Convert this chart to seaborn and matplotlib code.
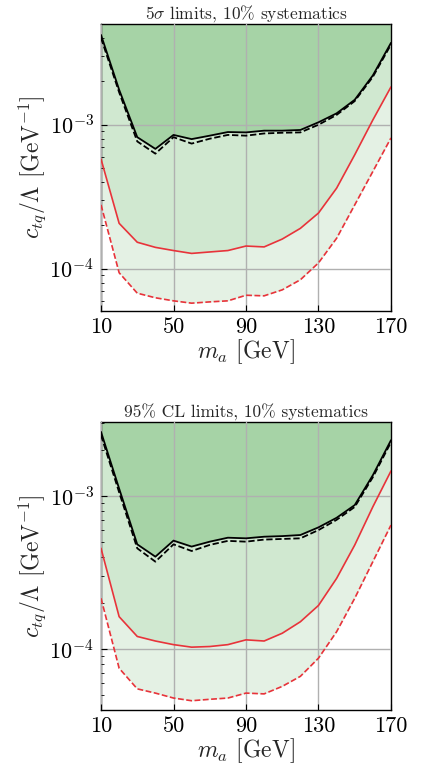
import numpy as np
import pandas as pd
import matplotlib
matplotlib.use("Agg")
import matplotlib.pyplot as plt
import seaborn as sns

mass = [10, 20, 30, 40, 50, 60, 70, 80, 90, 100, 110, 120, 130, 140, 150, 160, 170]

# Panel 1: 5 sigma limits
sig_black_solid = [4.2e-3, 1.75e-3, 8.2e-4, 6.8e-4, 8.5e-4, 7.95e-4, 8.4e-4, 8.9e-4, 8.85e-4, 9.1e-4, 9.1e-4, 9.2e-4, 1.04e-3, 1.2e-3, 1.49e-3, 2.2e-3, 3.7e-3]
sig_black_dashed = [4.0e-3, 1.68e-3, 7.66e-4, 6.3e-4, 8.2e-4, 7.4e-4, 8.0e-4, 8.5e-4, 8.4e-4, 8.7e-4, 8.8e-4, 8.85e-4, 1.0e-3, 1.17e-3, 1.46e-3, 2.15e-3, 3.6e-3]
sig_red_solid = [5.78e-4, 2.07e-4, 1.53e-4, 1.41e-4, 1.34e-4, 1.28e-4, 1.31e-4, 1.34e-4, 1.44e-4, 1.42e-4, 1.61e-4, 1.91e-4, 2.44e-4, 3.63e-4, 6.19e-4, 1.08e-3, 1.83e-3]
sig_red_dashed = [2.78e-4, 9.4e-5, 6.78e-5, 6.3e-5, 6.0e-5, 5.78e-5, 5.9e-5, 6.0e-5, 6.56e-5, 6.5e-5, 7.15e-5, 8.4e-5, 1.1e-4, 1.63e-4, 2.78e-4, 4.74e-4, 8.1e-4]

# Panel 2: 95% CL limits
cl_black_solid = [2.63e-3, 1.12e-3, 4.84e-4, 4.02e-4, 5.12e-4, 4.68e-4, 5.04e-4, 5.35e-4, 5.3e-4, 5.43e-4, 5.48e-4, 5.57e-4, 6.25e-4, 7.22e-4, 8.74e-4, 1.37e-3, 2.32e-3]
cl_black_dashed = [2.5e-3, 1.06e-3, 4.56e-4, 3.73e-4, 4.84e-4, 4.38e-4, 4.8e-4, 5.1e-4, 5.04e-4, 5.2e-4, 5.25e-4, 5.3e-4, 6.0e-4, 7.0e-4, 8.5e-4, 1.33e-3, 2.25e-3]
cl_red_solid = [4.56e-4, 1.63e-4, 1.21e-4, 1.13e-4, 1.07e-4, 1.03e-4, 1.04e-4, 1.07e-4, 1.15e-4, 1.13e-4, 1.27e-4, 1.51e-4, 1.93e-4, 2.9e-4, 4.79e-4, 8.52e-4, 1.46e-3]
cl_red_dashed = [2.15e-4, 7.5e-5, 5.5e-5, 5.16e-5, 4.79e-5, 4.6e-5, 4.7e-5, 4.79e-5, 5.16e-5, 5.1e-5, 5.71e-5, 6.64e-5, 8.73e-5, 1.3e-4, 2.15e-4, 3.73e-4, 6.47e-4]

titles = [r"$5\sigma$ limits, 10% systematics", r"95% CL limits, 10% systematics"]
x_ticks = [10, 50, 90, 130, 170]
ylims = [(5.1e-5, 5.0e-3), (4.0e-5, 3.05e-3)]

sns.set_style("ticks")
plt.rcParams["font.family"] = ["cmr10", "DejaVu Serif"]
plt.rcParams["mathtext.fontset"] = "cm"
plt.rcParams["axes.formatter.use_mathtext"] = True
plt.rcParams["axes.unicode_minus"] = False

fig = plt.figure(figsize=(4.23, 7.70), dpi=100)
axes = [fig.add_axes([0.2388, 0.5961, 0.6855, 0.3727]),
        fig.add_axes([0.2388, 0.0779, 0.6855, 0.3740])]

panels = [
    (sig_black_solid, sig_black_dashed, sig_red_solid, sig_red_dashed),
    (cl_black_solid, cl_black_dashed, cl_red_solid, cl_red_dashed),
]

dark = "#a6d3a6"
mid = "#d0e8d0"
light = "#e4f1e4"
red = "#e8333a"

for ax, (bs, bd, rs, rd), title, ylim in zip(axes, panels, titles, ylims):
    top = np.full(len(mass), ylim[1] * 2)
    ax.fill_between(mass, rd, rs, color=light, lw=0, zorder=0)
    ax.fill_between(mass, rs, bs, color=mid, lw=0, zorder=0)
    ax.fill_between(mass, bs, top, color=dark, lw=0, zorder=0)
    df = pd.DataFrame({"m": mass, "bs": bs, "bd": bd, "rs": rs, "rd": rd})
    sns.lineplot(data=df, x="m", y="bs", ax=ax, color="black", lw=1.3, zorder=3)
    sns.lineplot(data=df, x="m", y="bd", ax=ax, color="black", lw=1.3, ls=(0, (3.5, 1.5)), zorder=3)
    sns.lineplot(data=df, x="m", y="rs", ax=ax, color=red, lw=1.2, zorder=3)
    sns.lineplot(data=df, x="m", y="rd", ax=ax, color=red, lw=1.2, ls=(0, (3.5, 1.5)), zorder=3)
    ax.set_yscale("log")
    ax.set_xlim(10, 170)
    ax.set_ylim(*ylim)
    ax.set_xticks(x_ticks)
    ax.set_xticklabels([str(t) for t in x_ticks])
    ax.set_yticks([1e-4, 1e-3])
    ax.grid(True, which="major", color="#b0b0b0", lw=1.0, zorder=1)
    ax.set_axisbelow(False)
    for s in ax.spines.values():
        s.set_visible(True)
        s.set_color("black")
        s.set_linewidth(1.0)
    ax.tick_params(axis="both", which="both", direction="in", labelsize=16, colors="black", pad=5)
    ax.tick_params(axis="both", which="major", length=4)
    ax.tick_params(axis="y", which="minor", length=2)
    ax.set_xlabel(r"$m_a$ [GeV]", fontsize=17, labelpad=0)
    ax.set_ylabel(r"$c_{tq}/\Lambda$ [GeV$^{-1}$]", fontsize=17, labelpad=1)
    ax.set_title(title, fontsize=12.5, pad=3)

fig.savefig("out.png", dpi=100)
